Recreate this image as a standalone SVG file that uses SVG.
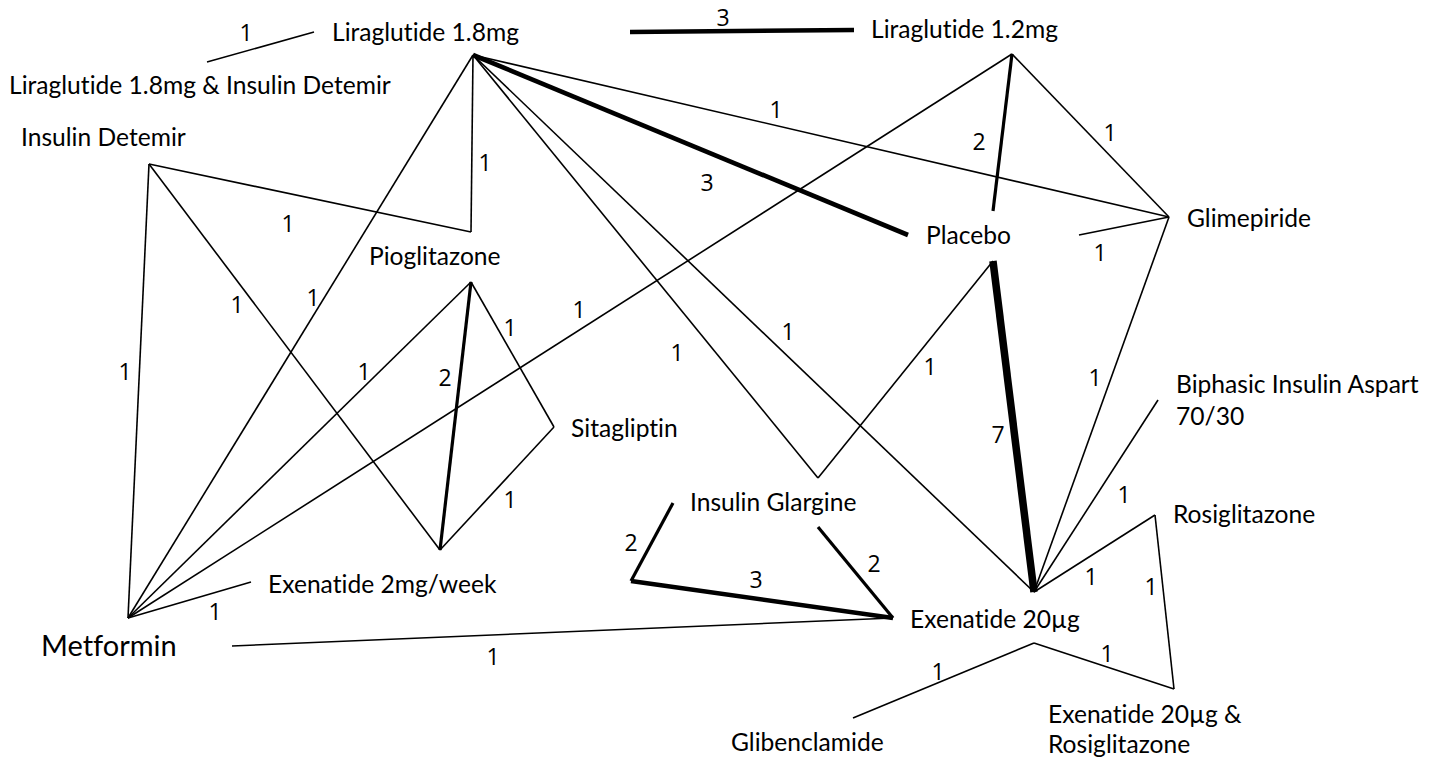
<svg xmlns="http://www.w3.org/2000/svg" width="1437" height="759" viewBox="0 0 1437 759">
<style>
.bg{fill:#ffffff}
.e{stroke:#000;stroke-width:1.6;fill:none;stroke-linecap:butt}
.w2{stroke-width:3.2}
.w3{stroke-width:4.6}
.w7{stroke-width:7.5}
text{font-variant-ligatures:none}
.n{font-family:Lato,"Liberation Sans",sans-serif;font-size:24.6px;fill:#000}
.big{font-size:29px}
.l{font-family:"Open Sans","Noto Sans",sans-serif;font-size:23px;fill:#000;text-anchor:middle}
</style>
<rect class="bg" x="0" y="0" width="1437" height="759"/>
<g id="connectors">
<line class="e" x1="207" y1="62" x2="314" y2="32"/>
<line class="e w3" x1="630" y1="32" x2="854" y2="30"/>
<line class="e w3" x1="473" y1="55" x2="908" y2="235"/>
<line class="e" x1="473" y1="55" x2="1169" y2="217"/>
<line class="e" x1="473" y1="55" x2="471" y2="232"/>
<line class="e" x1="149" y1="164" x2="471" y2="232"/>
<line class="e" x1="473" y1="55" x2="128" y2="618"/>
<line class="e" x1="473" y1="55" x2="818" y2="478"/>
<line class="e" x1="473" y1="55" x2="1034" y2="592"/>
<line class="e w2" x1="1012" y1="54" x2="993" y2="211"/>
<line class="e" x1="1012" y1="54" x2="1169" y2="217"/>
<line class="e" x1="1012" y1="54" x2="128" y2="618"/>
<line class="e" x1="149" y1="164" x2="128" y2="618"/>
<line class="e" x1="149" y1="164" x2="440" y2="550"/>
<line class="e w2" x1="471" y1="282" x2="440" y2="550"/>
<line class="e" x1="471" y1="282" x2="554" y2="427"/>
<line class="e" x1="471" y1="282" x2="128" y2="618"/>
<line class="e" x1="554" y1="427" x2="440" y2="550"/>
<line class="e" x1="128" y1="618" x2="251" y2="582"/>
<line class="e" x1="232" y1="646" x2="893" y2="618"/>
<line class="e" x1="993" y1="261" x2="818" y2="478"/>
<line class="e w7" x1="993" y1="261" x2="1034" y2="592"/>
<line class="e" x1="1079" y1="235" x2="1169" y2="217"/>
<line class="e" x1="1169" y1="217" x2="1034" y2="592"/>
<line class="e" x1="1158" y1="400" x2="1034" y2="592"/>
<line class="e" x1="1155" y1="515" x2="1034" y2="592"/>
<line class="e" x1="1155" y1="515" x2="1174" y2="689"/>
<line class="e" x1="1034" y1="643" x2="1174" y2="689"/>
<line class="e" x1="1034" y1="643" x2="853" y2="718"/>
<line class="e w2" x1="673" y1="503" x2="631" y2="581"/>
<line class="e w3" x1="631" y1="581" x2="893" y2="618"/>
<line class="e w2" x1="818" y1="527" x2="893" y2="618"/>
<text class="l" x="246" y="41">1</text>
<text class="l" x="723" y="26">3</text>
<text class="l" x="707" y="191">3</text>
<text class="l" x="776" y="118">1</text>
<text class="l" x="485" y="171">1</text>
<text class="l" x="288" y="232">1</text>
<text class="l" x="313" y="306">1</text>
<text class="l" x="677" y="361">1</text>
<text class="l" x="788" y="340">1</text>
<text class="l" x="979" y="150">2</text>
<text class="l" x="1110" y="141">1</text>
<text class="l" x="579" y="318">1</text>
<text class="l" x="125" y="380">1</text>
<text class="l" x="237" y="313">1</text>
<text class="l" x="445" y="386">2</text>
<text class="l" x="510" y="336">1</text>
<text class="l" x="364" y="380">1</text>
<text class="l" x="510" y="508">1</text>
<text class="l" x="215" y="620">1</text>
<text class="l" x="493" y="665">1</text>
<text class="l" x="930" y="375">1</text>
<text class="l" x="998" y="443">7</text>
<text class="l" x="1100" y="261">1</text>
<text class="l" x="1095" y="386">1</text>
<text class="l" x="1124" y="503">1</text>
<text class="l" x="1091" y="585">1</text>
<text class="l" x="1151" y="595">1</text>
<text class="l" x="1107" y="662">1</text>
<text class="l" x="938" y="680">1</text>
<text class="l" x="631" y="551">2</text>
<text class="l" x="756" y="588">3</text>
<text class="l" x="874" y="572">2</text>
</g>
<g id="node-liraglutide-18"><text class="n" x="332" y="41">Liraglutide 1.8mg</text></g>
<g id="node-liraglutide-12"><text class="n" x="871" y="38">Liraglutide 1.2mg</text></g>
<g id="node-lira18-detemir"><text class="n" x="9" y="94">Liraglutide 1.8mg &amp; Insulin Detemir</text></g>
<g id="node-insulin-detemir"><text class="n" x="21" y="146">Insulin Detemir</text></g>
<g id="node-pioglitazone"><text class="n" x="369" y="265">Pioglitazone</text></g>
<g id="node-sitagliptin"><text class="n" x="571" y="437">Sitagliptin</text></g>
<g id="node-exenatide-2mg"><text class="n" x="268" y="593">Exenatide 2mg/week</text></g>
<g id="node-metformin"><text class="n big" x="41" y="656">Metformin</text></g>
<g id="node-insulin-glargine"><text class="n" x="690" y="511">Insulin Glargine</text></g>
<g id="node-placebo"><text class="n" x="926" y="244">Placebo</text></g>
<g id="node-glimepiride"><text class="n" x="1187" y="227">Glimepiride</text></g>
<g id="node-biphasic"><text class="n" x="1176" y="393">Biphasic Insulin Aspart</text><text class="n" x="1176" y="425">70/30</text></g>
<g id="node-rosiglitazone"><text class="n" x="1173" y="523">Rosiglitazone</text></g>
<g id="node-exenatide-20"><text class="n" x="910" y="628">Exenatide 20µg</text></g>
<g id="node-glibenclamide"><text class="n" x="731" y="751">Glibenclamide</text></g>
<g id="node-exenatide-rosi"><text class="n" x="1048" y="723">Exenatide 20µg &amp;</text><text class="n" x="1048" y="753">Rosiglitazone</text></g>
</svg>
